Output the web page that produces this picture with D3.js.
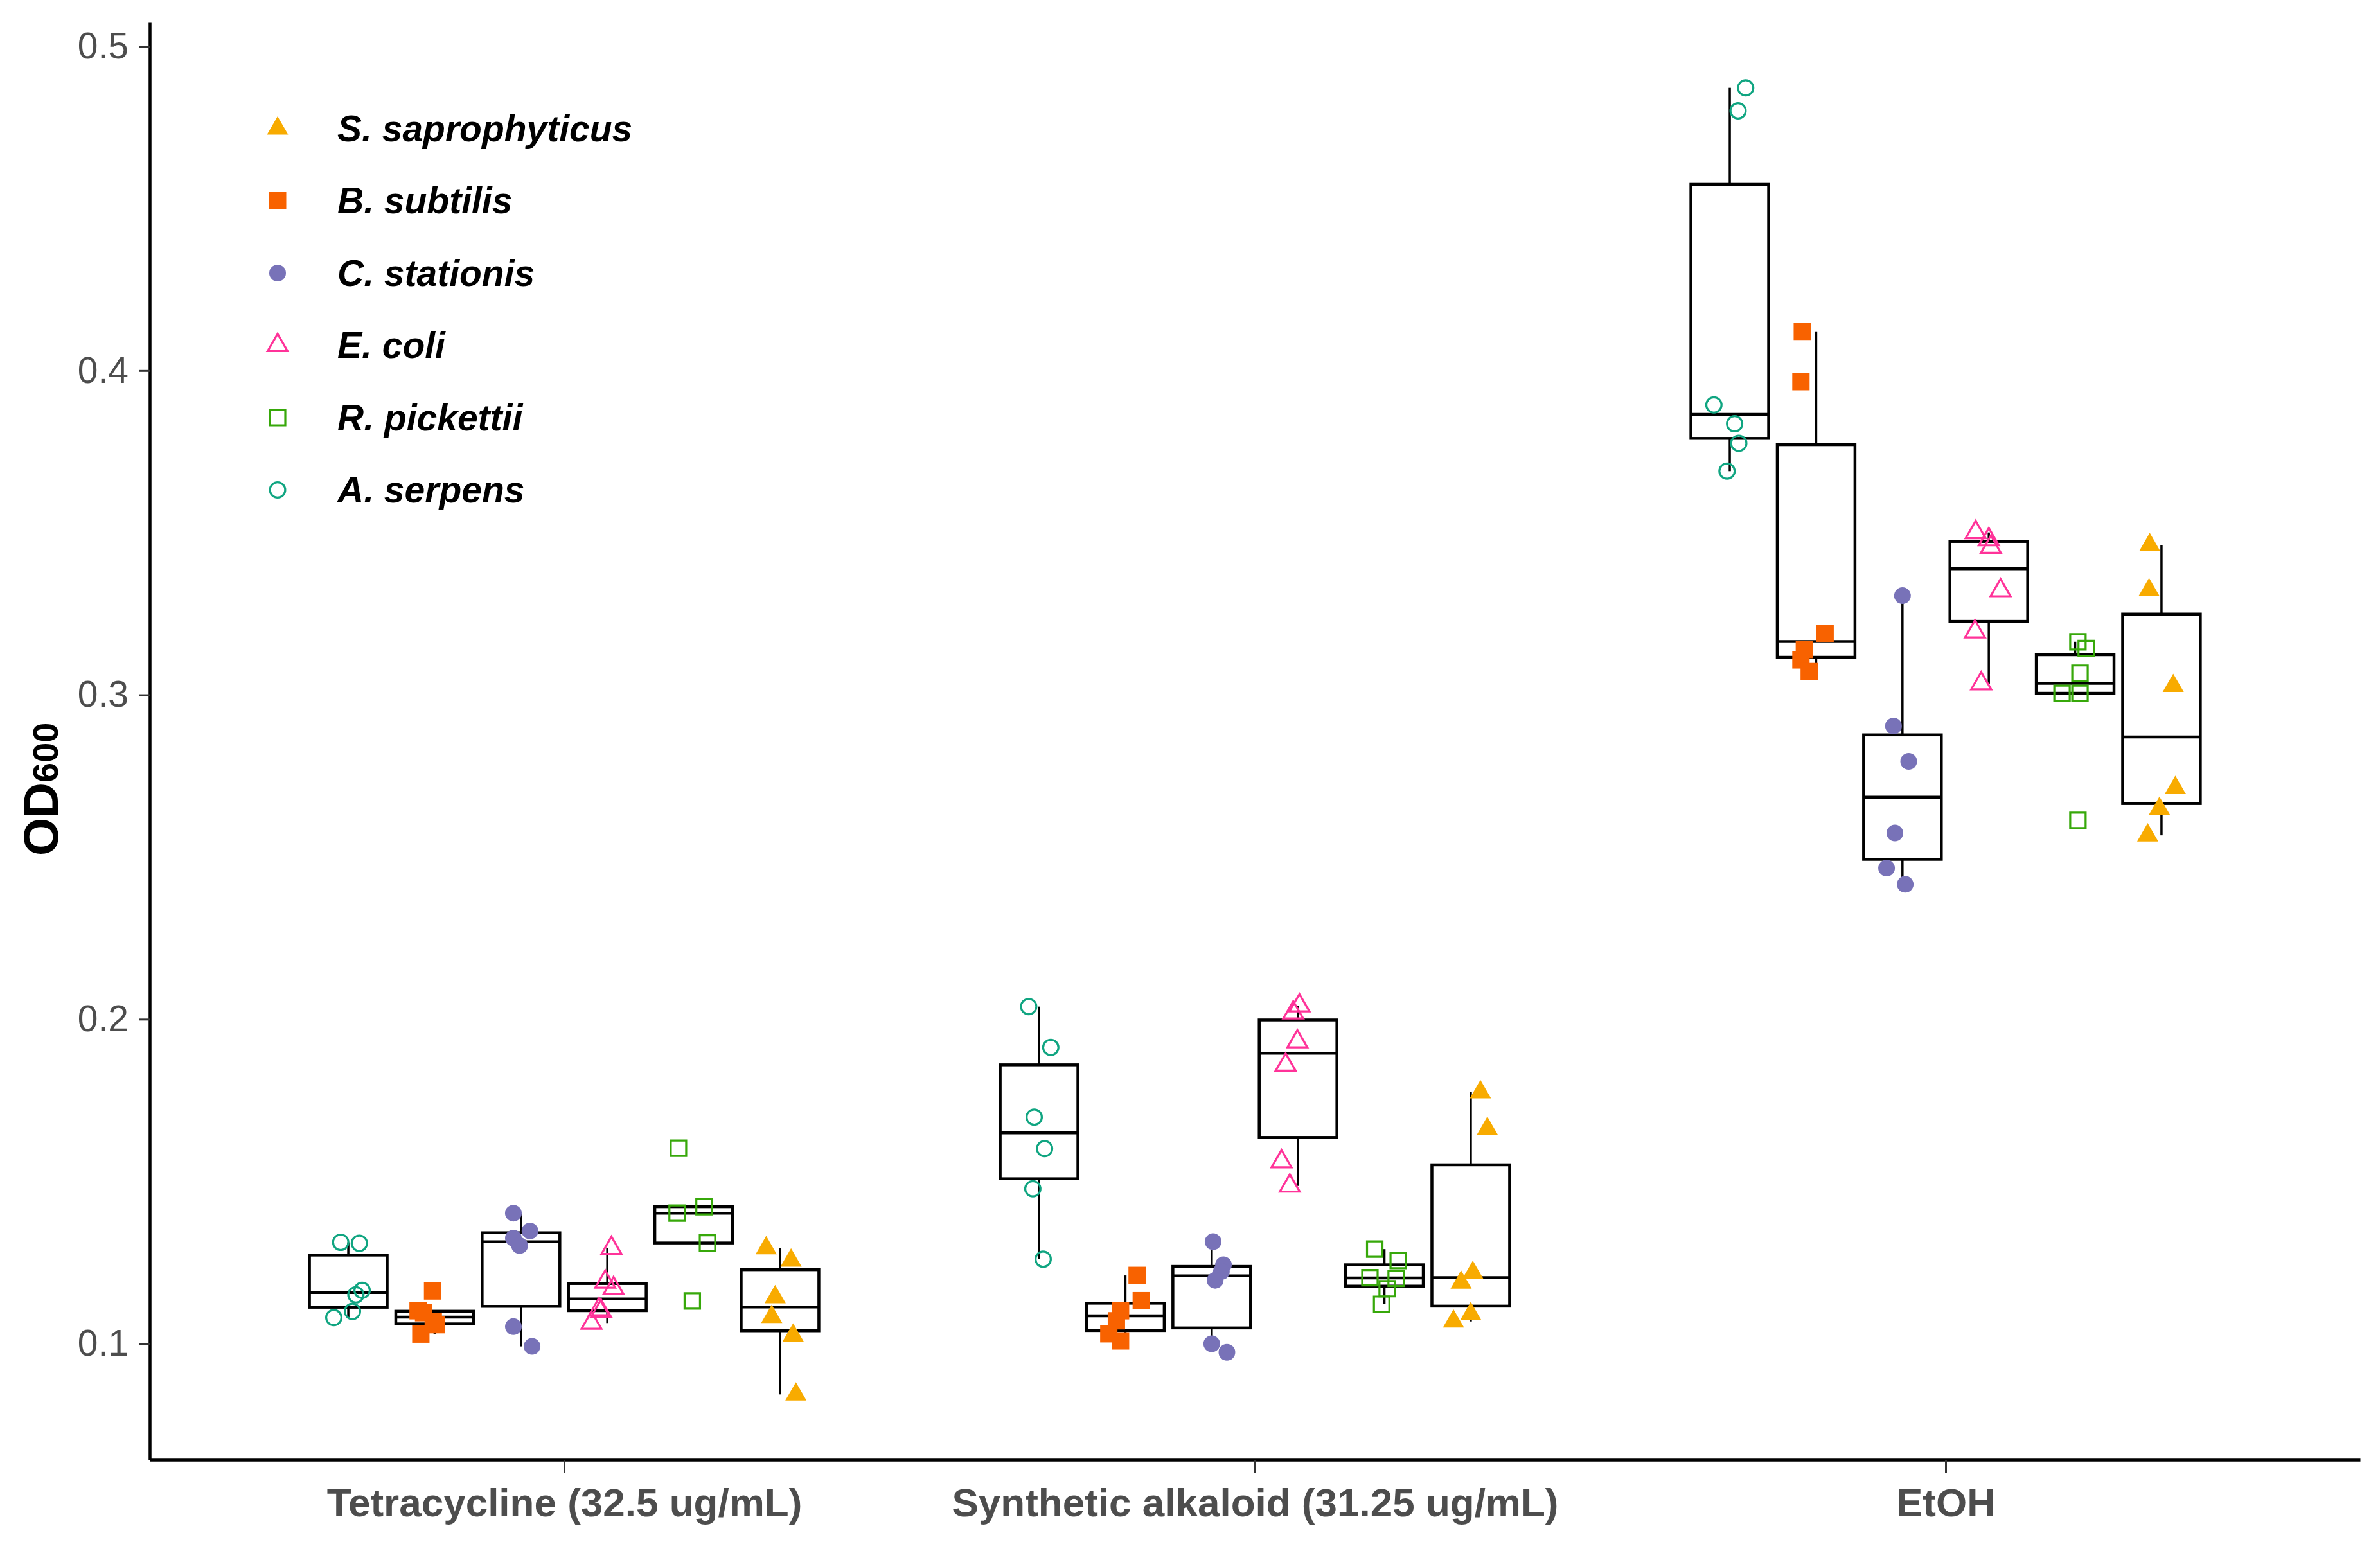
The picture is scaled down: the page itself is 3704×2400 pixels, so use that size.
<!DOCTYPE html>
<html>
<head>
<meta charset="utf-8">
<script src="https://cdn.jsdelivr.net/npm/d3@7"></script>
<style>
  body { margin: 0; background: #fff; }
  text { font-family: "Liberation Sans", Arial, sans-serif; }
</style>
</head>
<body>
<div id="chart"></div>
<script>
// categories
var treatments = ["Tetracycline (32.5 ug/mL)", "Synthetic alkaloid (31.25 ug/mL)", "EtOH"];
var species = ["A. serpens", "B. subtilis", "C. stationis", "E. coli", "R. pickettii", "S. saprophyticus"];
var legendOrder = ["S. saprophyticus", "B. subtilis", "C. stationis", "E. coli", "R. pickettii", "A. serpens"];
var yTicks = [0.1, 0.2, 0.3, 0.4, 0.5];

// OD600 readings, one inner array per treatment
var serpensOD   = [[0.1312, 0.1309, 0.1164, 0.1150, 0.1099, 0.1080],
                   [0.2039, 0.1913, 0.1698, 0.1601, 0.1477, 0.1260],
                   [0.4872, 0.4801, 0.3894, 0.3836, 0.3776, 0.3690]];
var subtilisOD  = [[0.1162, 0.1101, 0.1095, 0.1068, 0.1058, 0.1029],
                   [0.1210, 0.1132, 0.1101, 0.1070, 0.1030, 0.1008],
                   [0.4121, 0.3966, 0.3189, 0.3140, 0.3108, 0.3072]];
var stationisOD = [[0.1402, 0.1347, 0.1325, 0.1302, 0.1052, 0.0991],
                   [0.1314, 0.1243, 0.1222, 0.1195, 0.0999, 0.0973],
                   [0.3306, 0.2904, 0.2795, 0.2574, 0.2466, 0.2416]];
var coliOD      = [[0.1294, 0.1190, 0.1170, 0.1105, 0.1100, 0.1063],
                   [0.2042, 0.2020, 0.1931, 0.1859, 0.1561, 0.1486],
                   [0.3501, 0.3479, 0.3456, 0.3322, 0.3195, 0.3035]];
var pickettiiOD = [[0.1602, 0.1402, 0.1422, 0.1310, 0.1131],
                   [0.1291, 0.1256, 0.1203, 0.1201, 0.1169, 0.1121],
                   [0.3164, 0.3143, 0.3067, 0.3005, 0.3005, 0.2613]];
var saproOD     = [[0.1294, 0.1256, 0.1143, 0.1082, 0.1025, 0.0843],
                   [0.1775, 0.1662, 0.1218, 0.1188, 0.1091, 0.1068],
                   [0.3462, 0.3323, 0.3028, 0.2713, 0.2649, 0.2567]];

// horizontal jitter of each point, in category units
var serpensJit   = [[-0.011, 0.016, 0.020, 0.011, 0.006, -0.021],
                    [-0.015, 0.017, -0.007, 0.008, -0.009, 0.006],
                    [0.023, 0.012, -0.023, 0.007, 0.013, -0.004]];
var subtilisJit  = [[-0.003, -0.024, -0.016, -0.002, 0.002, -0.020],
                    [0.017, 0.023, -0.007, -0.013, -0.024, -0.007],
                    [-0.020, -0.022, 0.013, -0.017, -0.022, -0.010]];
var stationisJit = [[-0.011, 0.013, -0.011, -0.002, -0.011, 0.016],
                    [0.002, 0.017, 0.014, 0.005, 0.000, 0.022],
                    [0.000, -0.013, 0.009, -0.011, -0.023, 0.004]];
var coliJit      = [[0.006, -0.003, 0.009, -0.012, -0.009, -0.023],
                    [0.002, -0.007, -0.001, -0.018, -0.024, -0.012],
                    [-0.019, 0.000, 0.003, 0.017, -0.020, -0.011]];
var pickettiiJit = [[-0.022, -0.024, 0.015, 0.020, -0.002],
                    [-0.014, 0.020, -0.021, 0.017, 0.004, -0.004],
                    [0.004, 0.016, 0.007, -0.019, 0.007, 0.004]];
var saproJit     = [[-0.020, 0.016, -0.007, -0.012, 0.019, 0.023],
                    [0.014, 0.024, 0.003, -0.014, 0.000, -0.025],
                    [-0.017, -0.018, 0.017, 0.020, -0.003, -0.020]];

var odBySpecies = [serpensOD, subtilisOD, stationisOD, coliOD, pickettiiOD, saproOD];
var jitBySpecies = [serpensJit, subtilisJit, stationisJit, coliJit, pickettiiJit, saproJit];

// marker styles, same order as species
var colors = ["#10A581", "#F86200", "#7872B8", "#FF3399", "#37A80A", "#F8AB00"];
var shapes = [
    {type: d3.symbolCircle,   size: 445, filled: false},
    {type: d3.symbolSquare,   size: 729, filled: true},
    {type: d3.symbolCircle,   size: 531, filled: true},
    {type: d3.symbolTriangle, size: 416, filled: false},
    {type: d3.symbolSquare,   size: 576, filled: false},
    {type: d3.symbolTriangle, size: 472, filled: true}
];

// flatten into rows
var points = [];
var boxes = [];
species.forEach(function(s, si) {
    treatments.forEach(function(t, ti) {
        var vals = odBySpecies[si][ti];
        vals.forEach(function(v, i) {
            points.push({species: s, si: si, treatment: t, od: v, jit: jitBySpecies[si][ti][i]});
        });
        var sorted = vals.slice().sort(d3.ascending);
        var q1 = d3.quantileSorted(sorted, 0.25),
            med = d3.quantileSorted(sorted, 0.5),
            q3 = d3.quantileSorted(sorted, 0.75),
            iqr = q3 - q1;
        var inside = sorted.filter(function(v) { return v >= q1 - 1.5 * iqr && v <= q3 + 1.5 * iqr; });
        boxes.push({species: s, treatment: t, q1: q1, med: med, q3: q3,
                    lo: d3.min(inside), hi: d3.max(inside)});
    });
});

var W = 3704, H = 2400;
var margin = {top: 35, right: 31, bottom: 128, left: 233};

var svg = d3.select("#chart")
            .append("svg")
            .attr("width", W)
            .attr("height", H);
svg.append("rect").attr("width", W).attr("height", H).attr("fill", "#fff");

// scales
var x = d3.scalePoint()
            .domain(treatments)
            .range([margin.left, W - margin.right])
            .padding(0.6);
var dodge = d3.scaleBand()
            .domain(species)
            .range([-0.375 * x.step(), 0.375 * x.step()]);
var boxW = dodge.bandwidth() * 0.9;
function cx(t, s) { return x(t) + dodge(s) + dodge.bandwidth() / 2; }

var ext = d3.extent(points, function(d) { return d.od; });
var pad = (ext[1] - ext[0]) * 0.05;
var y = d3.scaleLinear()
            .domain([ext[0] - pad, ext[1] + pad])
            .range([H - margin.bottom, margin.top]);

// boxes
var gb = svg.selectAll("g.box")
            .data(boxes)
            .enter().append("g")
            .attr("transform", function(d) { return "translate(" + cx(d.treatment, d.species) + ",0)"; });
gb.append("line")
    .attr("y1", function(d) { return y(d.hi); })
    .attr("y2", function(d) { return y(d.q3); })
    .attr("stroke", "#000").attr("stroke-width", 3.5);
gb.append("line")
    .attr("y1", function(d) { return y(d.q1); })
    .attr("y2", function(d) { return y(d.lo); })
    .attr("stroke", "#000").attr("stroke-width", 3.5);
gb.append("rect")
    .attr("x", -boxW / 2)
    .attr("width", boxW)
    .attr("y", function(d) { return y(d.q3); })
    .attr("height", function(d) { return y(d.q1) - y(d.q3); })
    .attr("fill", "#fff")
    .attr("stroke", "#000")
    .attr("stroke-width", 4.5);
gb.append("line")
    .attr("x1", -boxW / 2).attr("x2", boxW / 2)
    .attr("y1", function(d) { return y(d.med); })
    .attr("y2", function(d) { return y(d.med); })
    .attr("stroke", "#000").attr("stroke-width", 4.5);

// jittered points
function symbolPath(si) {
    return d3.symbol().type(shapes[si].type).size(shapes[si].size)();
}
svg.selectAll("path.pt")
    .data(points)
    .enter().append("path")
    .attr("class", "pt")
    .attr("d", function(d) { return symbolPath(d.si); })
    .attr("transform", function(d) {
        return "translate(" + (cx(d.treatment, d.species) + d.jit * x.step()) + "," + y(d.od) + ")";
    })
    .attr("fill", function(d) { return shapes[d.si].filled ? colors[d.si] : "none"; })
    .attr("stroke", function(d) { return shapes[d.si].filled ? "none" : colors[d.si]; })
    .attr("stroke-width", 3.2);

// y axis
var yAxis = svg.append("g")
            .attr("transform", "translate(" + margin.left + ",0)")
            .call(d3.axisLeft(y).tickValues(yTicks).tickFormat(d3.format(".1f"))
                  .tickSize(17).tickSizeOuter(0).tickPadding(16));
yAxis.select(".domain").attr("stroke", "#000").attr("stroke-width", 4.5);
yAxis.selectAll(".tick line").attr("stroke", "#333").attr("stroke-width", 3);
yAxis.selectAll(".tick text")
    .attr("font-size", 57)
    .attr("font-family", "Liberation Sans, Arial, sans-serif")
    .attr("fill", "#4D4D4D");

// x axis
var xAxis = svg.append("g")
            .attr("transform", "translate(0," + (H - margin.bottom) + ")")
            .call(d3.axisBottom(x).tickSize(20).tickSizeOuter(0).tickPadding(24));
xAxis.select(".domain").attr("stroke", "#000").attr("stroke-width", 4.5);
xAxis.selectAll(".tick line").attr("stroke", "#333").attr("stroke-width", 3);
xAxis.selectAll(".tick text")
    .attr("font-size", 62)
    .attr("font-weight", "bold")
    .attr("font-family", "Liberation Sans, Arial, sans-serif")
    .attr("fill", "#4D4D4D");

// y title OD600
var yt = svg.append("text")
            .attr("transform", "translate(90,1332) rotate(-90)")
            .attr("font-weight", "bold")
            .attr("fill", "#000");
yt.append("tspan").attr("font-size", 76).text("OD");
yt.append("tspan").attr("font-size", 56).text("600");

// legend
var legend = svg.append("g")
            .selectAll("g")
            .data(legendOrder)
            .enter().append("g")
            .attr("transform", function(d, i) { return "translate(432," + (200 + i * 112.5) + ")"; });
legend.append("path")
    .attr("d", function(d) { return symbolPath(species.indexOf(d)); })
    .attr("fill", function(d) { var si = species.indexOf(d); return shapes[si].filled ? colors[si] : "none"; })
    .attr("stroke", function(d) { var si = species.indexOf(d); return shapes[si].filled ? "none" : colors[si]; })
    .attr("stroke-width", 3.2);
legend.append("text")
    .text(function(d) { return d; })
    .attr("x", 93)
    .attr("dy", "0.35em")
    .attr("font-size", 57)
    .attr("font-weight", "bold")
    .attr("font-style", "italic")
    .attr("fill", "#000");
</script>
</body>
</html>
